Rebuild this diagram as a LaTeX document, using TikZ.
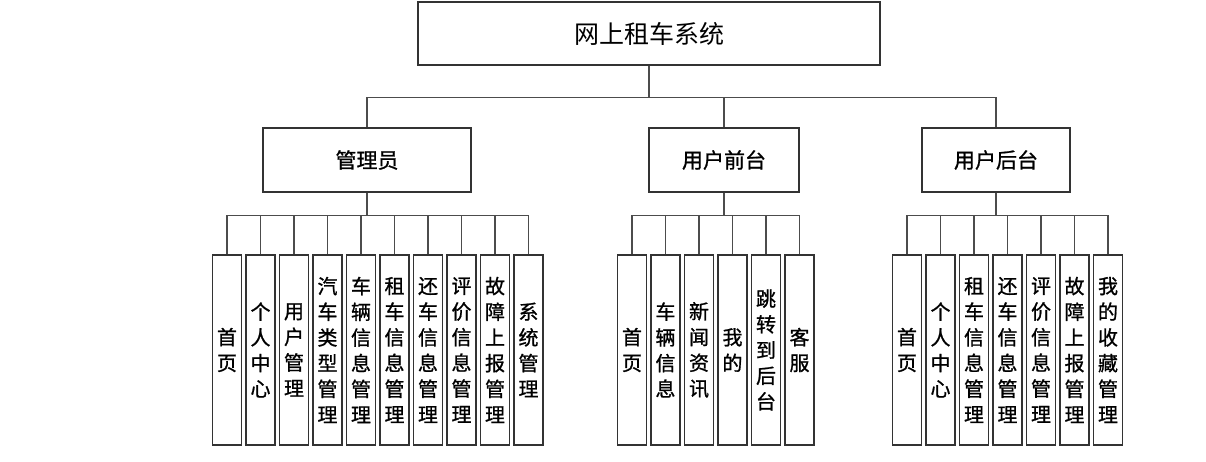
\documentclass[tikz,border=0pt]{standalone}
\usepackage{fontspec}
\newfontfamily\cjk{Noto Sans CJK SC}
\newfontfamily\cjkmid[FakeBold=1]{Noto Sans CJK SC}
\usetikzlibrary{positioning}

\begin{document}
\begin{tikzpicture}[
    x=1pt, y=-1pt,
    font=\cjk,
    node distance=3.3pt,
    rootbox/.style={draw=black!80, line width=1.2pt, minimum width=462pt, minimum height=63pt, font=\cjk\fontsize{25}{30}\selectfont},
    rolebox/.style={draw=black!80, line width=1.2pt, minimum height=64pt, font=\cjkmid\fontsize{21}{25}\selectfont},
    leaf/.style={draw=black!80, line width=1.2pt, inner sep=2pt, align=center, minimum width=29pt, minimum height=190pt, font=\cjkmid\fontsize{20}{25.7}\selectfont},
    link/.style={draw=black!70, line width=1.2pt}
]
\useasboundingbox (0,0) rectangle (1206,461);

\node[rootbox] (root) at (649,33.5) {网上租车系统};
\node[rolebox, minimum width=208pt] (admin) at (367,160) {管理员};
\node[rolebox, minimum width=150pt] (front) at (724,160) {用户前台};
\node[rolebox, minimum width=148pt] (back) at (996,160) {用户后台};

% 管理员
\node[leaf] (a1) at (227,350) {首\\页};
\node[leaf, right=of a1] (a2) {个\\人\\中\\心};
\node[leaf, right=of a2] (a3) {用\\户\\管\\理};
\node[leaf, right=of a3] (a4) {汽\\车\\类\\型\\管\\理};
\node[leaf, right=of a4] (a5) {车\\辆\\信\\息\\管\\理};
\node[leaf, right=of a5] (a6) {租\\车\\信\\息\\管\\理};
\node[leaf, right=of a6] (a7) {还\\车\\信\\息\\管\\理};
\node[leaf, right=of a7] (a8) {评\\价\\信\\息\\管\\理};
\node[leaf, right=of a8] (a9) {故\\障\\上\\报\\管\\理};
\node[leaf, right=of a9] (a10) {系\\统\\管\\理};

% 用户前台
\node[leaf] (f1) at (632,350) {首\\页};
\node[leaf, right=of f1] (f2) {车\\辆\\信\\息};
\node[leaf, right=of f2] (f3) {新\\闻\\资\\讯};
\node[leaf, right=of f3] (f4) {我\\的};
\node[leaf, right=of f4] (f5) {跳\\转\\到\\后\\台};
\node[leaf, right=of f5] (f6) {客\\服};

% 用户后台
\node[leaf] (b1) at (907,350) {首\\页};
\node[leaf, right=of b1] (b2) {个\\人\\中\\心};
\node[leaf, right=of b2] (b3) {租\\车\\信\\息\\管\\理};
\node[leaf, right=of b3] (b4) {还\\车\\信\\息\\管\\理};
\node[leaf, right=of b4] (b5) {评\\价\\信\\息\\管\\理};
\node[leaf, right=of b5] (b6) {故\\障\\上\\报\\管\\理};
\node[leaf, right=of b6] (b7) {我\\的\\收\\藏\\管\\理};

\draw[link] (root.south) -- ++(0,32) -| (admin.north);
\draw[link] (root.south) -- ++(0,32) -| (front.north);
\draw[link] (root.south) -- ++(0,32) -| (back.north);
\foreach \i in {1,...,10}
    \draw[link] (admin.south) -- ++(0,23) -| (a\i.north);
\foreach \i in {1,...,6}
    \draw[link] (front.south) -- ++(0,23) -| (f\i.north);
\foreach \i in {1,...,7}
    \draw[link] (back.south) -- ++(0,23) -| (b\i.north);
\end{tikzpicture}
\end{document}
